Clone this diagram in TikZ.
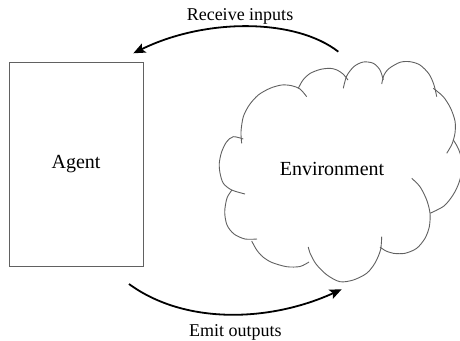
\documentclass[tikz,border=0pt]{standalone}
\usepackage{fontspec}
\setmainfont{Liberation Serif}
\usetikzlibrary{arrows.meta}
\begin{document}
\begin{tikzpicture}[x=1pt,y=-1pt,
  boxline/.style={draw=black!62, line width=1pt},
  cloudline/.style={draw=black!62, line width=0.9pt},
  flow/.style={line width=1.8pt, -{Stealth[length=12pt,width=10pt,inset=2.5pt]}},
  bigtext/.style={font=\fontsize{20}{24}\selectfont},
  labeltext/.style={font=\fontsize{18}{22}\selectfont}]
\useasboundingbox (0,0) rectangle (460,340);
\clip (0,0) rectangle (460,340);
% agent box
\node[boxline, minimum width=134pt, minimum height=204pt, inner sep=0pt, bigtext] (agent) at (76,164) {Agent};
% cloud lobes
\draw[cloudline] plot[smooth] coordinates {(241.7,143.3) (241,131.7) (243.3,116.7) (249.3,105) (258.3,95) (270,88.3) (281.7,85) (291.7,85.7) (300,89) (306.7,96.7)};
\draw[cloudline] plot[smooth] coordinates {(298.3,88.3) (303,80) (310,73.5) (320,69.5) (330,68.3) (337,70) (343,74) (348,80)};
\draw[cloudline] plot[smooth] coordinates {(343.3,88.3) (346.7,76) (354,66.5) (363.3,62) (373.3,63.3) (380,70) (383.3,80)};
\draw[cloudline] plot[smooth] coordinates {(381.7,84) (384,75) (389,68.5) (400,62.3) (410,61.7) (420,65) (429,74) (434,85) (436.7,96.7)};
\draw[cloudline] plot[smooth] coordinates {(433.3,88.3) (443.3,96.7) (450.5,108) (455,121) (455,133) (452,144) (446.7,153.3)};
\draw[cloudline] plot[smooth] coordinates {(453.3,140) (457,146) (460,153) (462,163) (461.5,173) (458.5,184) (453,195) (444,206) (430,213.3)};
\draw[cloudline] plot[smooth] coordinates {(411.7,178.3) (420,186.7) (426.7,200) (430,213.3) (429.3,226.7) (425,238.3) (416.7,248.3) (405,253.3) (393.3,253.3) (385,250.5) (380,247)};
\draw[cloudline] plot[smooth] coordinates {(381.7,236.7) (380.5,250) (375,263) (366.7,273.3) (353.3,280) (340,281.7) (327,275) (316,264) (310,253) (308.3,247)};
\draw[cloudline] plot[smooth] coordinates {(251.7,241) (256.7,250) (263,257) (272,262.5) (286.7,266.7) (300,266.5) (309,262)};
\draw[cloudline] plot[smooth] coordinates {(232,190) (227,198) (224.7,212) (227,225) (234,234) (245,239) (257,239)};
\draw[cloudline] plot[smooth] coordinates {(243.3,139) (233.3,136.7) (226.7,141.7) (221.7,151.7) (219.3,163) (220,173) (223.3,183.3) (231.7,190) (245,194)};
\node[bigtext, anchor=base] (env) at (332,175) {Environment};
% labels
\node[labeltext, anchor=base] (recv) at (240,20.7) {Receive inputs};
\node[labeltext, anchor=base] (emit) at (235.3,336.7) {Emit outputs};
% arrows
\coordinate (rs) at (338.3,51.7);
\coordinate (re) at (133.3,53.3);
\coordinate (es) at (129,284);
\coordinate (ee) at (341.7,289.3);
\draw[flow] (rs) .. controls (295,18) and (205,18) .. (re);
\draw[flow] (es) .. controls (185,325) and (270,322) .. (ee);
\end{tikzpicture}
\end{document}
